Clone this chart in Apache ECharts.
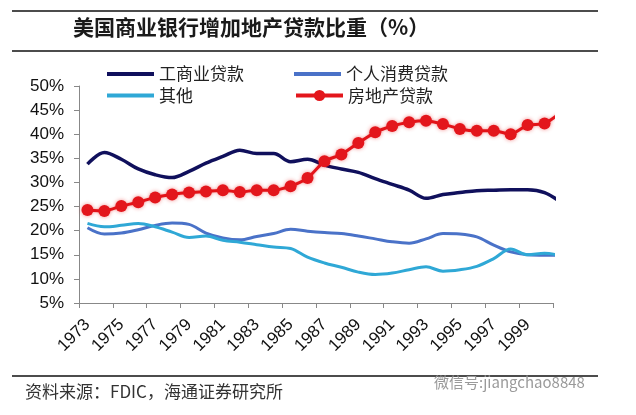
<!DOCTYPE html>
<html>
<head>
<meta charset="utf-8">
<script src="https://cdn.jsdelivr.net/npm/echarts@6/dist/echarts.min.js"></script>
<style>
html,body{margin:0;padding:0;background:#fff;}
#c{width:636px;height:415px;}
</style>
</head>
<body>
<div id="c"></div>
<script>
// Years (the last one sits just past the right edge of the plot and is clipped)
const years = [1973,1974,1975,1976,1977,1978,1979,1980,1981,1982,1983,1984,1985,1986,1987,1988,1989,1990,1991,1992,1993,1994,1995,1996,1997,1998,1999,2000,2001];
const yTicks = [5,10,15,20,25,30,35,40,45,50];
const ciLoans    = [33.8,36.2,34.8,32.8,31.6,31.0,32.3,34.0,35.4,36.7,36.0,36.0,34.3,34.8,33.6,32.8,32.1,30.8,29.6,28.4,26.7,27.5,27.9,28.3,28.4,28.5,28.5,27.9,25.8];
const consumer   = [20.6,19.3,19.5,20.2,21.1,21.6,21.3,19.5,18.5,18.1,18.8,19.4,20.3,19.9,19.6,19.4,18.9,18.3,17.7,17.4,18.3,19.4,19.3,18.7,17.0,15.6,15.0,14.9,14.9];
const others     = [21.5,20.8,21.1,21.5,20.8,19.7,18.6,18.9,18.0,17.6,17.1,16.6,16.3,14.5,13.3,12.4,11.4,10.9,11.2,11.9,12.5,11.6,11.9,12.6,14.2,16.2,15.0,15.3,14.8];
const realEstate = [24.3,24.1,25.1,25.9,26.9,27.5,27.9,28.1,28.4,28.0,28.4,28.4,29.2,30.9,34.4,35.8,38.2,40.4,41.7,42.5,42.8,42.1,41.1,40.7,40.7,40.0,41.9,42.2,44.6];

const names = ['工商业贷款','个人消费贷款','其他','房地产贷款'];
const colors = ['#10105c','#4a72c8','#2fa8d6','#e3161c'];

const shownYears = years.slice(0, 28).map(String);
const toPts = arr => arr.map((v, i) => [i + 0.5, v]);

const cjk = '"Noto Sans CJK SC", "Liberation Sans", sans-serif';
const latin = '"Liberation Sans", Arial, sans-serif';

function legendItem(name, left, top, plain) {
  const base = {left: left, top: top, padding: 0, orient: 'horizontal', itemWidth: 47,
    data: [plain ? {name: name, icon: 'rect'} : {name: name}],
    textStyle: {fontFamily: cjk, fontSize: 17, color: '#222'}};
  if (plain) { base.itemHeight = 4; }
  else { base.itemHeight = 14; base.lineStyle = {width: 4}; }
  return base;
}

const chart = echarts.init(document.getElementById('c'), null, {renderer: 'canvas'});
chart.setOption({
  animation: false,
  backgroundColor: '#fff',
  grid: {left: 79, right: 83, top: 86, bottom: 112, containLabel: false},
  legend: [
    legendItem(names[0], 107, 65.5, true),
    legendItem(names[2], 107, 87, true),
    legendItem(names[1], 294, 65.5, true),
    legendItem(names[3], 294, 87, false)
  ],
  xAxis: [
    {type: 'category', data: shownYears, boundaryGap: true,
     axisLine: {show: true, lineStyle: {color: '#888', width: 1}},
     axisTick: {show: true, interval: 1, length: 5, lineStyle: {color: '#888'}},
     axisLabel: {interval: 1, rotate: 45, margin: 19, fontFamily: latin, fontSize: 17, color: '#111'},
     splitLine: {show: false}},
    {type: 'value', min: 0, max: 28, show: false}
  ],
  yAxis: {type: 'value', min: yTicks[0], max: yTicks[yTicks.length - 1], interval: 5,
    axisLine: {show: true, lineStyle: {color: '#888', width: 1}},
    axisTick: {show: true, length: 5, lineStyle: {color: '#888'}},
    axisLabel: {formatter: '{value}%', margin: 15, fontFamily: latin, fontSize: 17, color: '#111'},
    splitLine: {show: false}},
  series: [
    {name: names[0], type: 'line', xAxisIndex: 1, data: toPts(ciLoans), smooth: 0.35,
     symbol: 'none', lineStyle: {color: colors[0], width: 3.5}, itemStyle: {color: colors[0]}},
    {name: names[1], type: 'line', xAxisIndex: 1, data: toPts(consumer), smooth: 0.35,
     symbol: 'none', lineStyle: {color: colors[1], width: 3}, itemStyle: {color: colors[1]}},
    {name: names[2], type: 'line', xAxisIndex: 1, data: toPts(others), smooth: 0.35,
     symbol: 'none', lineStyle: {color: colors[2], width: 3}, itemStyle: {color: colors[2]}},
    {name: names[3], type: 'line', xAxisIndex: 1, data: toPts(realEstate), smooth: 0.2,
     symbol: 'circle', symbolSize: 12, showAllSymbol: true,
     lineStyle: {color: colors[3], width: 3, shadowColor: 'rgba(230,0,0,0.35)', shadowBlur: 3},
     itemStyle: {color: colors[3], shadowColor: 'rgba(230,0,0,0.45)', shadowBlur: 4}}
  ],
  graphic: [
    {type: 'line', shape: {x1: 12, y1: 11, x2: 598, y2: 11}, style: {stroke: '#111', lineWidth: 1.5}},
    {type: 'text', left: 73, top: 17, style: {text: '美国商业银行增加地产贷款比重（%）', font: 'bold 21px ' + cjk, fill: '#1a1a1a'}},
    {type: 'line', shape: {x1: 12, y1: 51, x2: 598, y2: 51}, style: {stroke: '#111', lineWidth: 1.5}},
    {type: 'line', shape: {x1: 12, y1: 376, x2: 598, y2: 376}, style: {stroke: '#111', lineWidth: 1.5}},
    {type: 'text', left: 25, top: 383, style: {text: '资料来源：FDIC，海通证券研究所', font: '17px ' + cjk, fill: '#333'}},
    {type: 'text', left: 434, top: 375, style: {text: '微信号:jiangchao8848', font: '15px ' + cjk, fill: '#9a9a9a'}}
  ]
});
</script>
</body>
</html>
